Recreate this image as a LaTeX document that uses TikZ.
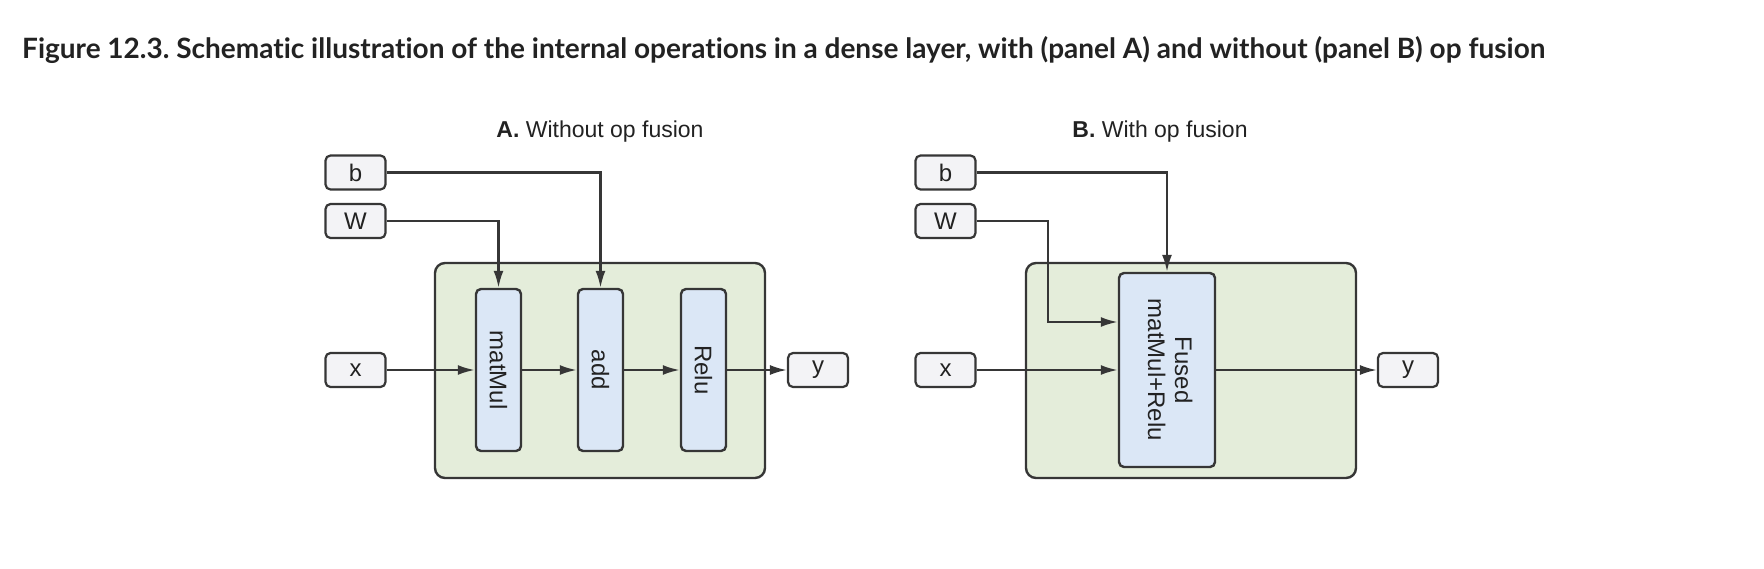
\documentclass[tikz,border=0pt]{standalone}
\usepackage{fontspec}
\setmainfont{Liberation Sans}
\newfontfamily\latofont{Lato}[Ligatures=NoCommon]
\usetikzlibrary{arrows.meta}
\frenchspacing

\definecolor{layergreen}{HTML}{E4EDDA}
\definecolor{opblue}{HTML}{DBE7F6}
\definecolor{tensorgray}{HTML}{F3F3F6}
\definecolor{edgegray}{HTML}{363636}
\definecolor{inkgray}{HTML}{222222}

\tikzset{
  tensor/.style={draw=edgegray, line width=2.2pt, fill=tensorgray, rounded corners=5pt,
    minimum width=60pt, minimum height=34pt, inner sep=0pt, text=inkgray,
    font=\fontsize{24}{26}\selectfont},
  layerbox/.style={draw=edgegray, line width=2.4pt, fill=layergreen, rounded corners=10pt,
    minimum width=330pt, minimum height=215pt, inner sep=0pt},
  opbox/.style={draw=edgegray, line width=2.4pt, fill=opblue, rounded corners=5pt,
    minimum width=45pt, minimum height=162pt, inner sep=0pt, text=inkgray,
    font=\fontsize{24}{27}\selectfont},
  flow/.style={draw=edgegray, line width=2.2pt, -{Latex[length=17pt, width=10pt]}},
}

\begin{document}
\begin{tikzpicture}[x=1pt, y=-1pt]
  \useasboundingbox (0,0) rectangle (1764,568);

  \node [anchor=base west, inner sep=0pt, text=inkgray,
         font=\latofont\bfseries\fontsize{28}{30}\selectfont] (caption) at (22,58)
        {Figure 12.3. Schematic illustration of the internal operations in a dense layer, with (panel A) and without (panel B) op fusion};

  % panel A
  \node [anchor=base, text=inkgray, font=\fontsize{23}{26}\selectfont] (headA) at (600,137)
        {\textbf{A.} Without op fusion};
  \node [layerbox] (layerA) at (600,370.5) {};
  \node [tensor] (bA) at (355.5,172.5) {b};
  \node [tensor] (WA) at (355.5,221) {W};
  \node [tensor] (xA) at (355.5,370) {x};
  \node [tensor] (yA) at (818,370) {y};
  \node [opbox] (matMul) at (498.5,370) {\rotatebox{-90}{matMul}};
  \node [opbox] (add) at (600.5,370) {\rotatebox{-90}{add}};
  \node [opbox] (relu) at (703.5,370) {\rotatebox{-90}{Relu}};

  \draw [flow] (xA) -- (matMul);
  \draw [flow] (matMul) -- (add);
  \draw [flow] (add) -- (relu);
  \draw [flow] (relu) -- (yA);
  \draw [flow] (WA) -| (matMul);
  \draw [flow] (bA) -| (add);

  % panel B
  \node [anchor=base, text=inkgray, font=\fontsize{23}{26}\selectfont] (headB) at (1160,137)
        {\textbf{B.} With op fusion};
  \node [layerbox] (layerB) at (1191,370.5) {};
  \node [tensor] (bB) at (945.5,172.5) {b};
  \node [tensor] (WB) at (945.5,221) {W};
  \node [tensor] (xB) at (945.5,370) {x};
  \node [tensor] (yB) at (1408,370) {y};
  \node [opbox, minimum width=96pt, minimum height=194pt] (fused) at (1167,370)
        {\rotatebox{-90}{\begin{tabular}{@{}c@{}}Fused\\matMul+Relu\end{tabular}}};
  \coordinate (wbend) at (1048,322);

  \draw [flow] (xB) -- (fused);
  \draw [flow] (fused) -- (yB);
  \draw [flow] (bB) -| (fused);
  \draw [flow] (WB) -| (wbend) -- (wbend -| fused.west);
\end{tikzpicture}
\end{document}
